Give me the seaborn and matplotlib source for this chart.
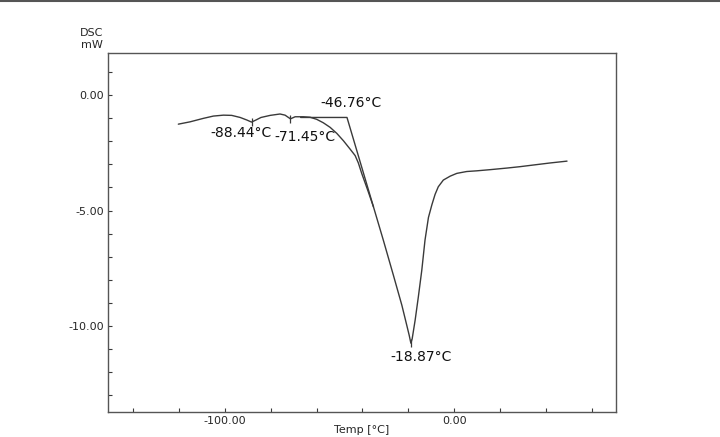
import matplotlib
matplotlib.use("Agg")
import matplotlib.pyplot as plt
from matplotlib.lines import Line2D
from matplotlib.ticker import MultipleLocator, FormatStrFormatter
import seaborn as sns
import pandas as pd

# DSC curve
temp = [-120.4, -115.3, -109.5, -105.1, -100.7, -97.1, -93.4, -90.5, -88.44, -86.5,
        -84.3, -80.3, -76.0, -73.8, -71.45, -69.4, -65.8, -62.9, -60.0, -57.1,
        -54.1, -51.2, -48.3, -45.4, -43.2, -41.8, -40.3, -37.7, -35.2, -30.9,
        -26.5, -22.8, -20.7, -19.6, -18.87, -18.3, -17.0, -15.6, -14.1, -12.7,
        -11.2, -9.7, -8.3, -6.9, -4.7, -1.7, 1.2, 5.5, 9.9, 15.7,
        23.1, 28.8, 34.5, 41.9, 49.3]
dsc = [-1.26, -1.16, -1.01, -0.91, -0.87, -0.88, -0.97, -1.08, -1.17, -1.08,
       -0.97, -0.88, -0.82, -0.87, -1.03, -0.94, -0.94, -0.96, -1.05, -1.20,
       -1.40, -1.66, -1.98, -2.34, -2.62, -2.94, -3.40, -4.12, -4.84, -6.28,
       -7.80, -9.10, -9.95, -10.40, -10.74, -10.55, -9.74, -8.73, -7.58, -6.28,
       -5.30, -4.75, -4.30, -3.97, -3.68, -3.51, -3.39, -3.31, -3.28, -3.23,
       -3.16, -3.10, -3.03, -2.94, -2.86]

# onset construction: baseline + tangent
onset_x = [-67.0, -46.76, -35.2]
onset_y = [-0.97, -0.97, -4.84]

# peak markers and labels
peak_t = [-88.44, -71.45, -18.87]
peak_y = [-1.17, -1.03, -10.74]
labels = ["-88.44\u00b0C", "-71.45\u00b0C", "-46.76\u00b0C", "-18.87\u00b0C"]
label_x = [-93.0, -65.1, -45.0, -14.4]
label_y = [-1.65, -1.82, -0.35, -11.34]

sns.set_style("white")
plt.rcParams["font.family"] = ["DejaVu Sans"]

fig = plt.figure(figsize=(7.2, 4.37), dpi=100)
ax = fig.add_axes([0.15, 0.0572, 0.7056, 0.8215])

line_color = "#3a3a3a"
df = pd.DataFrame({"temp": temp, "dsc": dsc})
sns.lineplot(data=df, x="temp", y="dsc", sort=False, color=line_color, linewidth=1.0, ax=ax)

on = pd.DataFrame({"x": onset_x, "y": onset_y})
sns.lineplot(data=on, x="x", y="y", sort=False, color=line_color, linewidth=1.0, ax=ax)

ax.plot(peak_t, peak_y, linestyle="none", marker="|", markersize=6,
        color=line_color, markeredgewidth=0.9)

for txt, lx, ly in zip(labels, label_x, label_y):
    ax.text(lx, ly, txt, fontsize=10, ha="center", va="center", color="#111111")

ax.set_xlim(-151.1, 70.7)
ax.set_ylim(-13.72, 1.82)

ax.xaxis.set_major_locator(MultipleLocator(100))
ax.xaxis.set_minor_locator(MultipleLocator(20))
ax.yaxis.set_major_locator(MultipleLocator(5))
ax.yaxis.set_minor_locator(MultipleLocator(1))
ax.xaxis.set_major_formatter(FormatStrFormatter("%.2f"))
ax.yaxis.set_major_formatter(FormatStrFormatter("%.2f"))

ax.tick_params(which="both", direction="in", length=3, width=0.8, color=line_color,
               labelsize=8, top=False, right=False, bottom=True, left=True, pad=3)

for s in ax.spines.values():
    s.set_color("#555555")
    s.set_linewidth(1.0)

ax.set_xlabel("Temp [\u00b0C]", fontsize=8, labelpad=-1)
ax.set_ylabel("")

fig.text(103 / 720, 1 - 39 / 437, "DSC\nmW", ha="right", va="center",
         multialignment="right", fontsize=8, linespacing=1.15)

# thin frame line along the top of the picture
fig.add_artist(Line2D([0, 1], [0.998, 0.998], transform=fig.transFigure,
                      color="#555555", linewidth=1.5))

fig.savefig("out.png", dpi=100)
